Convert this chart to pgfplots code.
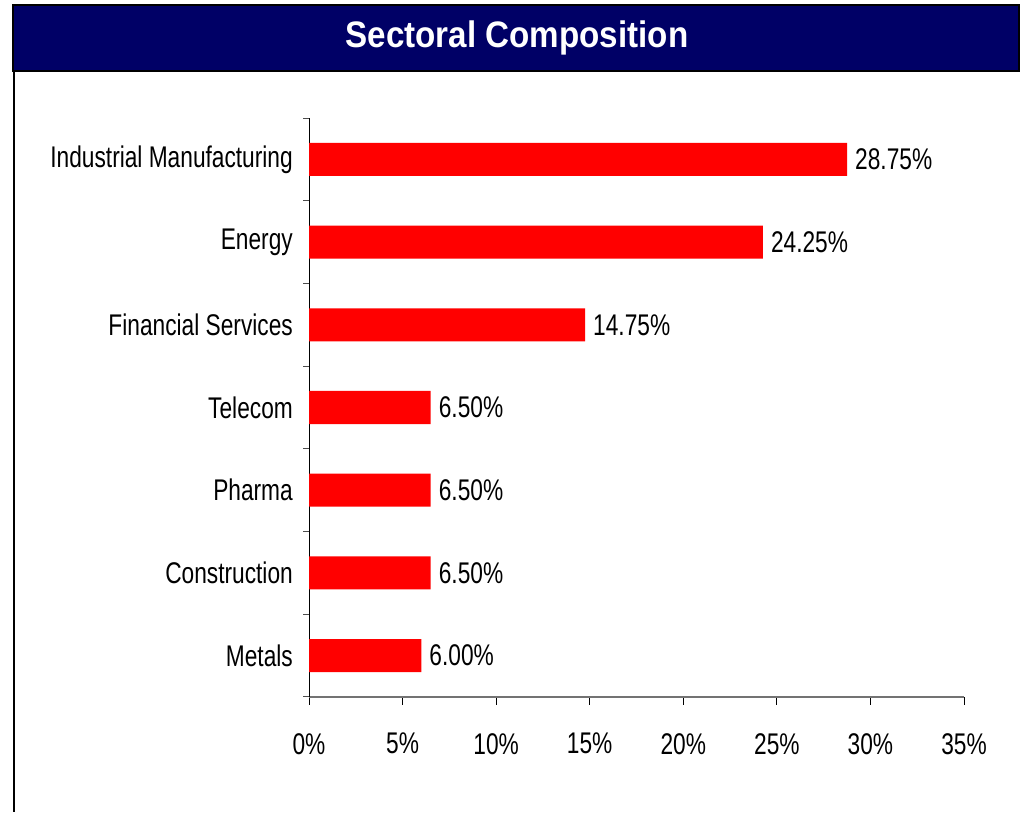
\documentclass[border=0pt]{standalone}
\usepackage{pgfplots}
\pgfplotsset{compat=1.18}
\usepackage{fontspec}
\setmainfont{Liberation Sans}[FakeStretch=0.76]
\newfontfamily\titlefont{Liberation Sans}[FakeStretch=0.9]
\definecolor{banner}{RGB}{0,0,102}
\definecolor{barred}{RGB}{255,0,0}

\begin{document}
\begin{tikzpicture}
\path[use as bounding box] (0bp,0bp) rectangle (1021bp,814bp);
% title banner and frame line
\fill[banner, draw=black, line width=2bp] (13bp,743bp) rectangle (1019bp,809bp);
\node[text=white, font=\titlefont\fontsize{37}{40}\selectfont\bfseries] at (517bp,776bp) {Sectoral Composition};
\draw[line width=1.2bp] (14bp,743bp) -- (14bp,2bp);
\begin{axis}[
    at={(309bp,117bp)}, anchor=south west,
    scale only axis, width=655bp, height=579bp,
    xbar, bar width=33bp,
    xmin=0, xmax=35, ymin=-0.5, ymax=6.5,
    /pgf/number format/assume math mode=true,
    xtick={0,5,...,35},
    xticklabel={\pgfmathprintnumber{\tick}\%},
    ytick={0,...,6},
    yticklabels={Metals,Construction,Pharma,Telecom,Financial Services,Energy,Industrial Manufacturing},
    minor ytick={-0.5,0.5,...,6.5},
    tick align=outside,
    major tick length=8bp, minor tick length=6bp,
    major y tick style={draw=none},
    minor y tick style={draw=black!70, line width=1bp},
    major x tick style={draw=black, line width=1bp},
    axis x line*=bottom, axis y line*=left,
    x axis line style={draw=black!55, line width=1.5bp},
    y axis line style={draw=black, line width=1bp},
    tick label style={font=\fontsize{30}{34}\selectfont, inner sep=0pt},
    xticklabel style={yshift=-28bp},
    yticklabel style={xshift=-8bp},
    nodes near coords={\pgfmathprintnumber[fixed,zerofill,precision=2]{\pgfplotspointmeta}\%},
    nodes near coords style={font=\fontsize{30}{34}\selectfont, inner sep=0pt, xshift=8bp},
    point meta=x,
]
\addplot[fill=barred, draw=none] coordinates {
    (6.00,0) (6.50,1) (6.50,2) (6.50,3) (14.75,4) (24.25,5) (28.75,6)
};
\end{axis}
\end{tikzpicture}
\end{document}
